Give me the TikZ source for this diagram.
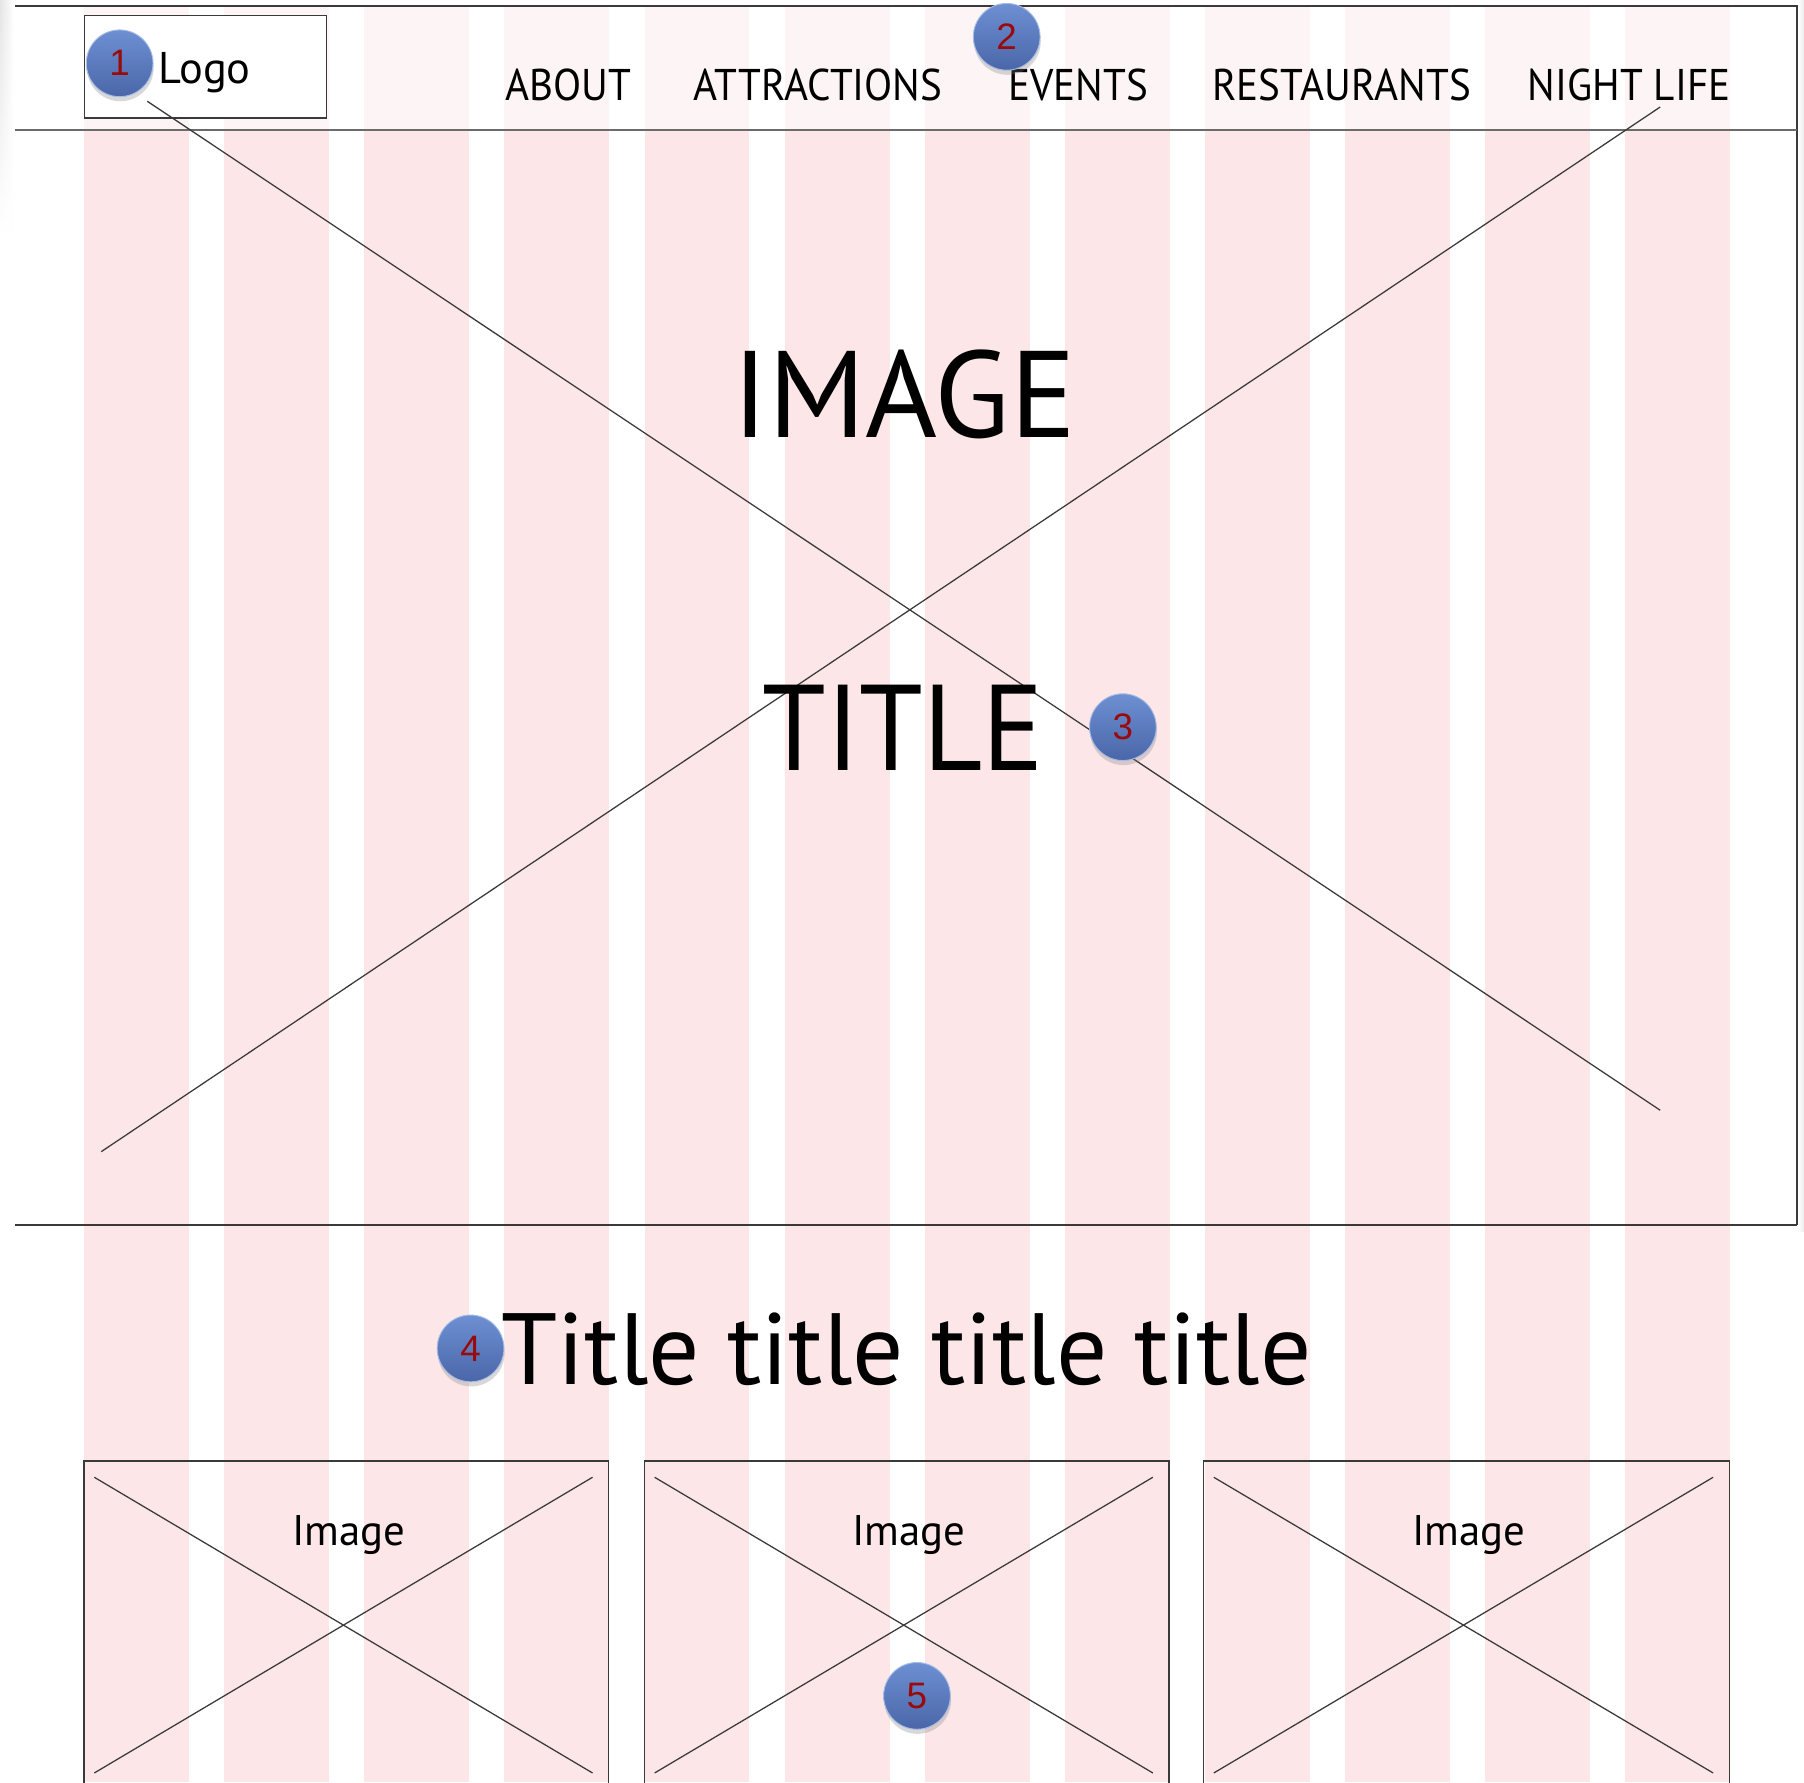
\documentclass[tikz,border=0pt]{standalone}
\usepackage{fontspec}
\setmainfont{PT Sans}
\newfontfamily\navfont[FakeStretch=0.925]{PT Sans}
\newfontfamily\titlefont[FakeStretch=0.94]{PT Sans}
\newfontfamily\numfont{Liberation Sans}
\usetikzlibrary{shadows,fadings}
\definecolor{colpink}{HTML}{FCE6E8}
\definecolor{framegray}{HTML}{3A3A3A}
\definecolor{badgetop}{HTML}{6D90D3}
\definecolor{badgebot}{HTML}{4A66A8}
\definecolor{numred}{HTML}{9A0A0A}
\begin{document}
\begin{tikzpicture}[x=0.5pt,y=-0.5pt,
  frameline/.style={draw=framegray, line width=0.9pt},
  headline/.style={draw=framegray!75, line width=0.5pt},
  xline/.style={draw=framegray, line width=0.55pt},
  boxline/.style={draw=framegray, line width=0.6pt},
  navtext/.style={font=\navfont\fontsize{19.3}{22}\selectfont, anchor=base, inner sep=0pt},
  logotext/.style={font=\fontsize{19.3}{22}\selectfont, anchor=base, inner sep=0pt},
  bigtext/.style={font=\fontsize{53.5}{60}\selectfont, anchor=base, inner sep=0pt},
  titletext/.style={font=\titlefont\fontsize{53}{60}\selectfont, anchor=base, inner sep=0pt},
  subtitle/.style={font=\fontsize{44}{50}\selectfont, anchor=base, inner sep=0pt},
  imglabel/.style={font=\fontsize{18.6}{22}\selectfont, anchor=base, inner sep=0pt},
  badge/.style={circle, minimum size=29pt, inner sep=0pt, top color=badgetop, bottom color=badgebot,
    draw=badgetop!60!white, line width=0.4pt,
    drop shadow={opacity=0.3, shadow xshift=0.3pt, shadow yshift=-2pt},
    font=\numfont\fontsize{16}{18}\selectfont, text=numred}
]
% canvas
\useasboundingbox (0,0) rectangle (1568,1549);
\fill[white] (0,0) rectangle (1568,1549);
% faint edge shadows
\shade[left color=black!10, right color=white, path fading=south] (0,0) rectangle (12,200);
\shade[left color=white, right color=black!8] (1563,0) rectangle (1568,1070);
% grid columns
\foreach \i in {0,...,11}
  \fill[colpink] ({73+121.8*\i},5) rectangle ({73+121.8*\i+91.2},1549);
% header overlay
\fill[white, opacity=0.6] (13,5) rectangle (1562,113);
% page frame
\coordinate (tl) at (13,5);
\coordinate (tr) at (1562,5);
\coordinate (hl) at (13,113);
\coordinate (hr) at (1562,113);
\coordinate (bl) at (13,1065);
\coordinate (br) at (1562,1065);
\draw[frameline] (tl) -- (tr) -- (br);
\draw[frameline] (bl) -- (br);
\draw[headline] (hl) -- (hr);
% logo box
\node[draw=framegray, line width=0.6pt, fill=white, minimum width=105pt, minimum height=44.5pt, inner sep=0pt, anchor=north west] (logobox) at (73,13) {};
\node[logotext] (logo) at (178,73) {Logo};
% nav
\node[navtext] (about) at (494,87) {ABOUT};
\node[navtext] (attr) at (711,87) {ATTRACTIONS};
\node[navtext] (events) at (937,87) {EVENTS};
\node[navtext] (rest) at (1166,87) {RESTAURANTS};
\node[navtext] (night) at (1416,87) {NIGHT LIFE};
% hero X
\coordinate (xa1) at (128,88);
\coordinate (xa2) at (1443,965);
\coordinate (xb1) at (1443,93);
\coordinate (xb2) at (88,1001);
\draw[xline] (xa1) -- (xa2);
\draw[xline] (xb1) -- (xb2);
\node[bigtext] (image) at (786,380) {IMAGE};
\node[titletext] (title) at (785,670) {TITLE};
% section title
\node[subtitle] (sub) at (788,1203) {Title title title title};
% image boxes
\foreach \n/\l/\r in {1/73/529, 2/560/1016, 3/1046/1503}{
  \coordinate (b\n tl) at (\l,1270);
  \coordinate (b\n tr) at (\r,1270);
  \coordinate (b\n bl) at (\l,1560);
  \coordinate (b\n br) at (\r,1560);
  \draw[boxline] (b\n bl) -- (b\n tl) -- (b\n tr) -- (b\n br);
  \coordinate (c\n a) at ({\l+9},1284);
  \coordinate (c\n b) at ({\r-14},1541);
  \coordinate (c\n c) at ({\r-14},1284);
  \coordinate (c\n d) at ({\l+9},1541);
  \draw[xline] (c\n a) -- (c\n b);
  \draw[xline] (c\n c) -- (c\n d);
  \node[imglabel] (lab\n) at ({(\l+\r)/2+2},1343) {Image};
}
% badges
\node[badge] (n1) at (104,55) {1};
\node[badge] (n2) at (875,32) {2};
\node[badge] (n3) at (976,632) {3};
\node[badge] (n4) at (409,1172) {4};
\node[badge] (n5) at (797,1474) {5};
\end{tikzpicture}
\end{document}
